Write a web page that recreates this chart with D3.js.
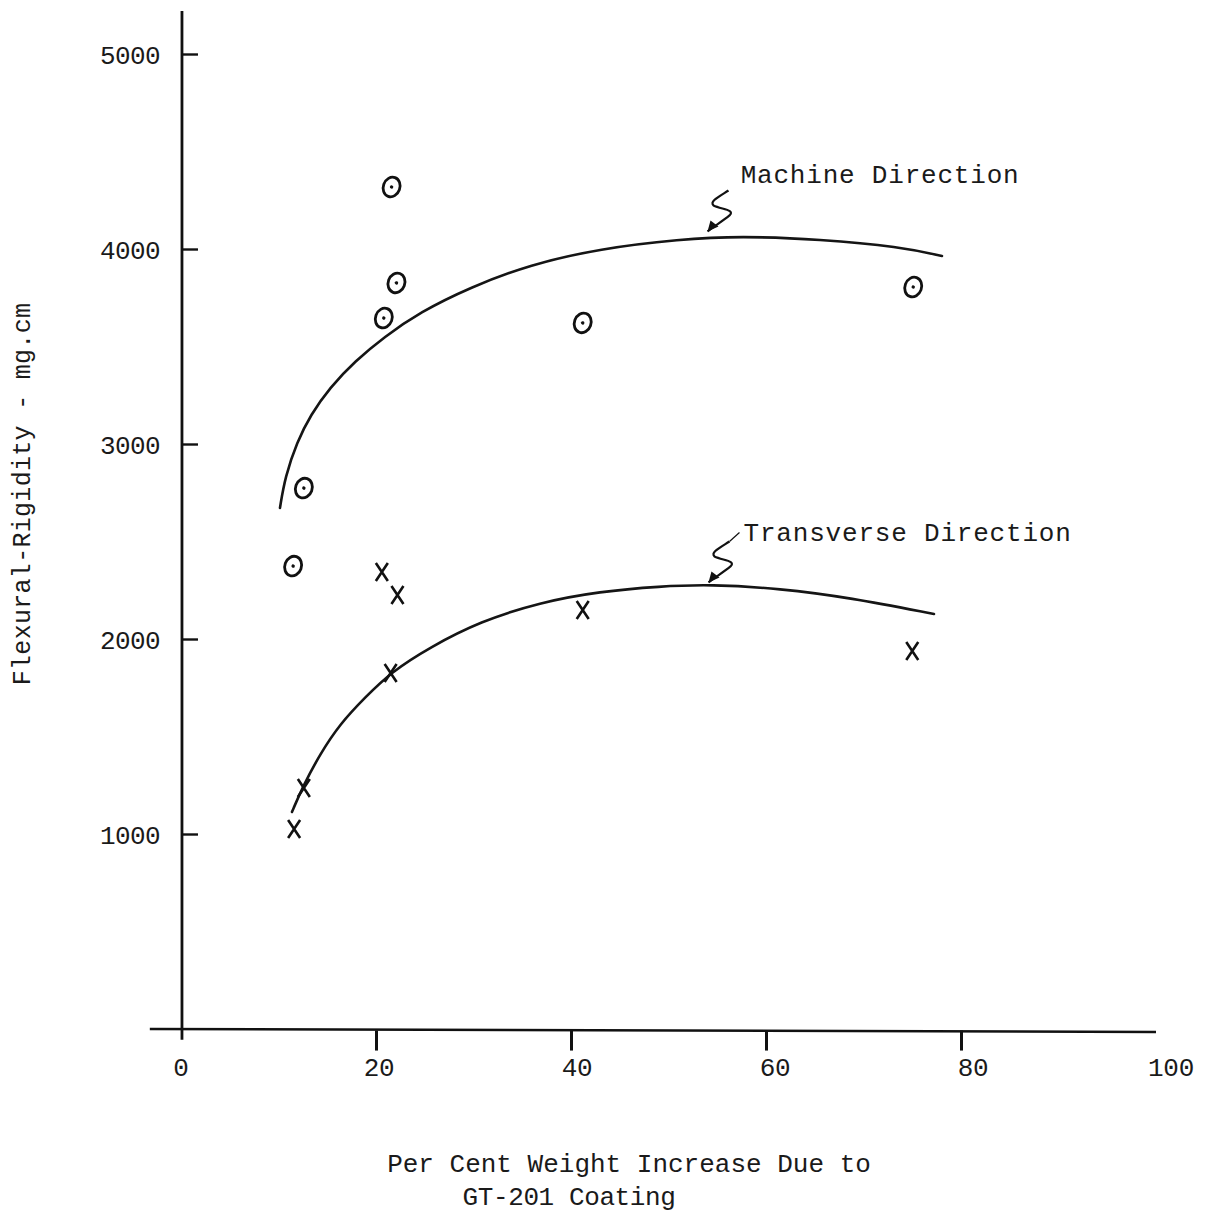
<!DOCTYPE html>
<html>
<head>
<meta charset="utf-8">
<script src="https://cdn.jsdelivr.net/npm/d3@7"></script>
<style>
  html, body { margin: 0; padding: 0; background: #fff; }
  svg text { font-family: "Liberation Mono", "DejaVu Sans Mono", monospace; fill: #1a1a1a; }
</style>
</head>
<body>
<svg id="chart" width="1210" height="1212"></svg>
<script>
// data
const yTicks = [1000, 2000, 3000, 4000, 5000];
const xTicks = [20, 40, 60, 80];
const xLabels = [0, 20, 40, 60, 80, 100];

// machine direction (circles)
const machinePts = [
  [21.6, 4318], [22.1, 3826], [20.8, 3646], [12.6, 2774],
  [11.5, 2374], [41.2, 3621], [75.1, 3805]
];
// transverse direction (crosses)
const transPts = [
  [20.6, 2344], [22.2, 2226], [21.5, 1826], [12.6, 1236],
  [11.6, 1026], [41.2, 2149], [75.0, 1938]
];
// hand drawn fit curves
const machineCurve = [
  [10.15, 2672], [10.67, 2830], [11.9, 3010], [13.3, 3150], [15.28, 3290],
  [17.85, 3425], [20.82, 3548], [24.51, 3676], [29.64, 3803], [35.79, 3920],
  [42.97, 4002], [51.18, 4050], [57.33, 4066], [65.54, 4050], [73.74, 4012],
  [78.05, 3964]
];
const transCurve = [
  [11.38, 1113], [12.51, 1245], [14.26, 1410], [16.31, 1565], [18.87, 1700],
  [21.54, 1830], [25.54, 1958], [30.67, 2090], [36.82, 2188], [42.97, 2244],
  [49.13, 2270], [54.26, 2280], [61.44, 2259], [68.62, 2212], [77.23, 2128]
];
const annotations = [
  { text: "Machine Direction", tip: [54.0, 4090], textAt: [57.4, 4340], link: false },
  { text: "Transverse Direction", tip: [54.1, 2290], textAt: [57.7, 2505], link: true }
];

const svg = d3.select('#chart');
const x = d3.scaleLinear().domain([0, 80]).range([181, 961]);
const y = d3.scaleLinear().domain([0, 5000]).range([1029, 54]);
// typed labels sit a touch wider than the ruled ticks
const xl = d3.scaleLinear().domain([0, 100]).range([181, 1171]);

const g = svg.append('g');

// axes lines
g.append('line').attr('x1', x(-3.2)).attr('x2', x(100)).attr('y1', y(0)).attr('y2', y(-15))
  .attr('stroke', '#111').attr('stroke-width', 2.6);
g.append('line').attr('x1', x(0.1)).attr('x2', x(0.1)).attr('y1', y(-55)).attr('y2', y(5220))
  .attr('stroke', '#111').attr('stroke-width', 2.8);

// y ticks (inside) + labels
const yAxis = d3.axisLeft(y).tickValues(yTicks).tickSizeInner(-16).tickSizeOuter(0)
  .tickPadding(22).tickFormat(d3.format('d'));
g.append('g').attr('transform', `translate(${x(0.1)},0)`).call(yAxis)
  .call(a => a.select('.domain').remove())
  .call(a => a.selectAll('line').attr('stroke', '#111').attr('stroke-width', 2.4))
  .call(a => a.selectAll('text').attr('font-size', 26).attr('letter-spacing', -0.6)
    .attr('dy', '0.36em')
    .attr('font-family', '"Liberation Mono", monospace').attr('fill', '#1a1a1a'));

// x ticks (downward)
const xAxis = d3.axisBottom(x).tickValues(xTicks).tickSize(20).tickFormat('');
g.append('g').attr('transform', `translate(0,${y(-8)})`).call(xAxis)
  .call(a => a.select('.domain').remove())
  .call(a => a.selectAll('line').attr('stroke', '#111').attr('stroke-width', 3));

g.selectAll('.xlab').data(xLabels).join('text')
  .attr('class', 'xlab')
  .attr('x', d => xl(d)).attr('y', 1076)
  .attr('text-anchor', 'middle').attr('font-size', 26).attr('letter-spacing', -0.3)
  .text(d => d);

// axis titles
svg.append('text')
  .attr('transform', 'translate(30,494) rotate(-90)')
  .attr('text-anchor', 'middle').attr('font-size', 25).attr('letter-spacing', 0.3)
  .text('Flexural-Rigidity - mg.cm');
svg.append('text').attr('x', 629).attr('y', 1172)
  .attr('text-anchor', 'middle').attr('font-size', 26).attr('letter-spacing', 0)
  .text('Per Cent Weight Increase Due to');
svg.append('text').attr('x', 569).attr('y', 1205)
  .attr('text-anchor', 'middle').attr('font-size', 26).attr('letter-spacing', -0.4)
  .text('GT-201 Coating');

// curves
const line = d3.line().x(d => x(d[0])).y(d => y(d[1])).curve(d3.curveBasis);
[machineCurve, transCurve].forEach(c => {
  g.append('path').datum(c).attr('d', line)
    .attr('fill', 'none').attr('stroke', '#151515').attr('stroke-width', 2.6)
    .attr('stroke-linecap', 'round');
});

// circle markers
const circ = g.selectAll('.circ').data(machinePts).join('g').attr('class', 'circ')
  .attr('transform', d => `translate(${x(d[0])},${y(d[1])}) rotate(20)`);
circ.append('ellipse').attr('rx', 8.3).attr('ry', 10)
  .attr('fill', 'none').attr('stroke', '#111').attr('stroke-width', 2.8);
circ.append('circle').attr('r', 1.7).attr('fill', '#111');

// cross markers
g.selectAll('.cross').data(transPts).join('path').attr('class', 'cross')
  .attr('transform', d => `translate(${x(d[0])},${y(d[1])})`)
  .attr('d', 'M-6,-9 L6,9 M6,-9 L-6,9')
  .attr('stroke', '#111').attr('stroke-width', 2.6).attr('fill', 'none');

// annotation squiggles + text
annotations.forEach(a => {
  const tx = x(a.tip[0]), ty = y(a.tip[1]);
  const sq = d3.path();
  sq.moveTo(tx + 21, ty - 41);
  sq.bezierCurveTo(tx + 10, ty - 34, tx + 2, ty - 30, tx + 6, ty - 26);
  sq.bezierCurveTo(tx + 14, ty - 22, tx + 28, ty - 22, tx + 22, ty - 16);
  sq.bezierCurveTo(tx + 16, ty - 11, tx + 8, ty - 6, tx, ty);
  g.append('path').attr('d', sq.toString()).attr('fill', 'none')
    .attr('stroke', '#111').attr('stroke-width', 2.2);
  g.append('path').attr('d', `M${tx},${ty} L${tx + 3},${ty - 11} L${tx + 11},${ty - 5} Z`)
    .attr('fill', '#111');
  if (a.link) {
    g.append('line').attr('x1', tx + 21).attr('y1', ty - 41).attr('x2', tx + 31).attr('y2', ty - 50)
      .attr('stroke', '#111').attr('stroke-width', 1.2);
  }
  g.append('text').attr('x', x(a.textAt[0])).attr('y', y(a.textAt[1]))
    .attr('font-size', 26).attr('letter-spacing', 0.8)
    .text(a.text);
});
</script>
</body>
</html>
